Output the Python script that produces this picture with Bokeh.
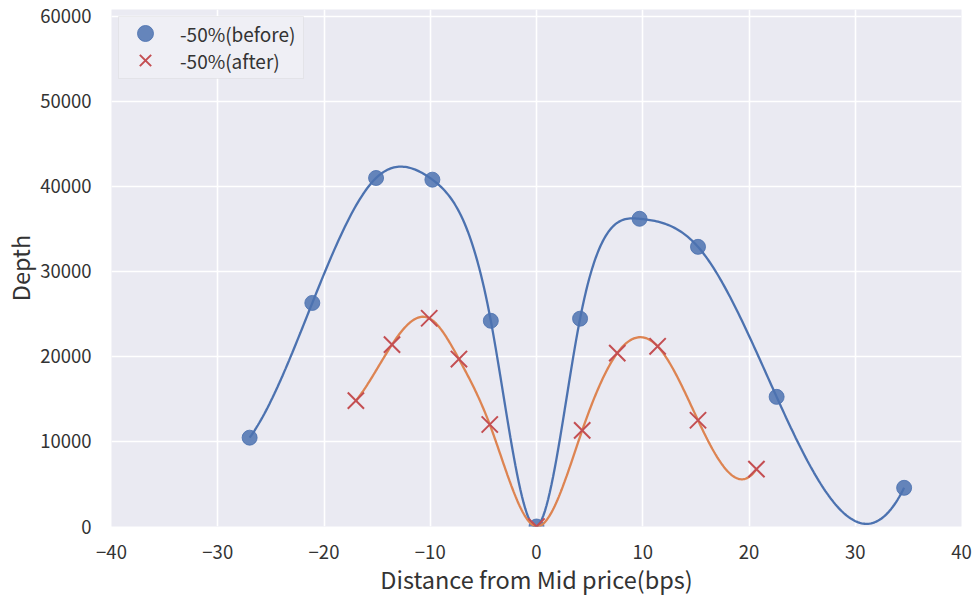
import numpy as np
from bokeh.plotting import figure
from bokeh.models import FixedTicker, Range1d, Legend, LegendItem, BoxAnnotation
from bokeh.embed import file_html
from bokeh.resources import INLINE

# ---- data ----
before_x = [-27.0, -21.1, -15.1, -9.8, -4.3, 0.0, 4.1, 9.7, 15.2, 22.6, 34.6]
before_y = [10450, 26300, 41000, 40800, 24200, 0, 24450, 36200, 32900, 15250, 4550]

after_x = [-17.0, -13.6, -10.1, -7.3, -4.4, 0.0, 4.3, 7.6, 11.4, 15.2, 20.7]
after_y = [14800, 21400, 24500, 19700, 12000, 0, 11300, 20400, 21200, 12500, 6750]

x_ticks = [-40, -30, -20, -10, 0, 10, 20, 30, 40]
x_tick_labels = ["\u221240", "\u221230", "\u221220", "\u221210", "0", "10", "20", "30", "40"]
y_ticks = [0, 10000, 20000, 30000, 40000, 50000, 60000]
y_tick_labels = ["0", "10000", "20000", "30000", "40000", "50000", "60000"]

before_label = "-50%(before)"
after_label = "-50%(after)"


def spline_curve(xs, ys, n=400):
    """Not-a-knot cubic spline through the given points (rendering of the smooth line)."""
    x = np.asarray(xs, float)
    y = np.asarray(ys, float)
    m = len(x)
    h = np.diff(x)
    A = np.zeros((m, m))
    b = np.zeros(m)
    A[0, 0] = -h[1]
    A[0, 1] = h[0] + h[1]
    A[0, 2] = -h[0]
    for i in range(1, m - 1):
        A[i, i - 1] = h[i - 1]
        A[i, i] = 2 * (h[i - 1] + h[i])
        A[i, i + 1] = h[i]
        b[i] = 6 * ((y[i + 1] - y[i]) / h[i] - (y[i] - y[i - 1]) / h[i - 1])
    A[m - 1, m - 3] = -h[m - 2]
    A[m - 1, m - 2] = h[m - 3] + h[m - 2]
    A[m - 1, m - 1] = -h[m - 3]
    M = np.linalg.solve(A, b)
    xx = np.linspace(x[0], x[-1], n)
    idx = np.clip(np.searchsorted(x, xx) - 1, 0, m - 2)
    x0, x1 = x[idx], x[idx + 1]
    hh = x1 - x0
    yy = (M[idx] * (x1 - xx) ** 3 / (6 * hh) + M[idx + 1] * (xx - x0) ** 3 / (6 * hh)
          + (y[idx] / hh - M[idx] * hh / 6) * (x1 - xx)
          + (y[idx + 1] / hh - M[idx + 1] * hh / 6) * (xx - x0))
    return xx, yy


FONT = "Noto Sans CJK JP"
BLUE = "#4C72B0"
ORANGE = "#DD8452"
RED = "#C44E52"

p = figure(
    width=976, height=599,
    frame_width=850, frame_height=517,
    min_border_left=111, min_border_right=15, min_border_top=9, min_border_bottom=73,
    x_range=Range1d(-40, 40), y_range=Range1d(0, 60820),
    output_backend="svg", toolbar_location=None,
    background_fill_color="#EAEAF2", border_fill_color="white",
)
p.outline_line_color = None

for ax in (p.xaxis[0], p.yaxis[0]):
    ax.axis_line_color = None
    ax.major_tick_line_color = None
    ax.minor_tick_line_color = None
    ax.major_tick_out = 0
    ax.major_tick_in = 0
    ax.minor_tick_out = 0
    ax.minor_tick_in = 0
    ax.major_label_text_font = FONT
    ax.major_label_text_font_size = "18.5px"
    ax.major_label_text_color = "#333333"
    ax.axis_label_text_font = FONT
    ax.axis_label_text_font_size = "23.5px"
    ax.axis_label_text_font_style = "normal"
    ax.axis_label_text_color = "#333333"

p.xaxis.ticker = FixedTicker(ticks=x_ticks)
p.xaxis.major_label_overrides = dict(zip(x_ticks, x_tick_labels))
p.yaxis.ticker = FixedTicker(ticks=y_ticks)
p.yaxis.major_label_overrides = dict(zip(y_ticks, y_tick_labels))
p.xaxis.axis_label = "Distance from Mid price(bps)"
p.yaxis.axis_label = "Depth"
p.xaxis.major_label_standoff = 18
p.yaxis.major_label_standoff = 20
p.xaxis.axis_label_standoff = 0
p.yaxis.axis_label_standoff = 0

p.grid.grid_line_color = "white"
p.grid.grid_line_width = 1.6
p.xgrid.ticker = FixedTicker(ticks=x_ticks)
p.ygrid.ticker = FixedTicker(ticks=y_ticks)

bx, by = spline_curve(before_x, before_y)
ax_, ay_ = spline_curve(after_x, after_y)

l1 = p.line(bx, by, line_color=BLUE, line_width=2.3)
s1 = p.scatter(before_x, before_y, marker="circle", size=15, fill_color=BLUE,
               fill_alpha=0.85, line_color=BLUE, line_alpha=0.85)
l2 = p.line(ax_, ay_, line_color=ORANGE, line_width=2.3)
s2 = p.scatter(after_x, after_y, marker="x", size=23, line_color=RED, line_width=2.0)

# legend frame (drawn separately so the legend glyphs can be large)
frame = BoxAnnotation(left=118, right=303, top=16, bottom=78,
                      left_units="canvas", right_units="canvas",
                      top_units="canvas", bottom_units="canvas",
                      fill_color="#EFEFF5", fill_alpha=1.0,
                      line_color="#CCCCCC", line_width=1)
p.add_layout(frame)

common = dict(margin=0, padding=0, spacing=0,
              glyph_width=40, glyph_height=40, label_height=24, label_standoff=15,
              label_text_font=FONT, label_text_font_size="19px", label_text_color="#333333",
              background_fill_alpha=0.0, border_line_color=None)
leg1 = Legend(items=[LegendItem(label=before_label, renderers=[s1])],
              location=(14, 473), **common)
leg2 = Legend(items=[LegendItem(label=after_label, renderers=[s2])],
              location=(14, 446), **common)
p.add_layout(leg1)
p.add_layout(leg2)

open("out.html", "w").write(file_html(p, INLINE))
